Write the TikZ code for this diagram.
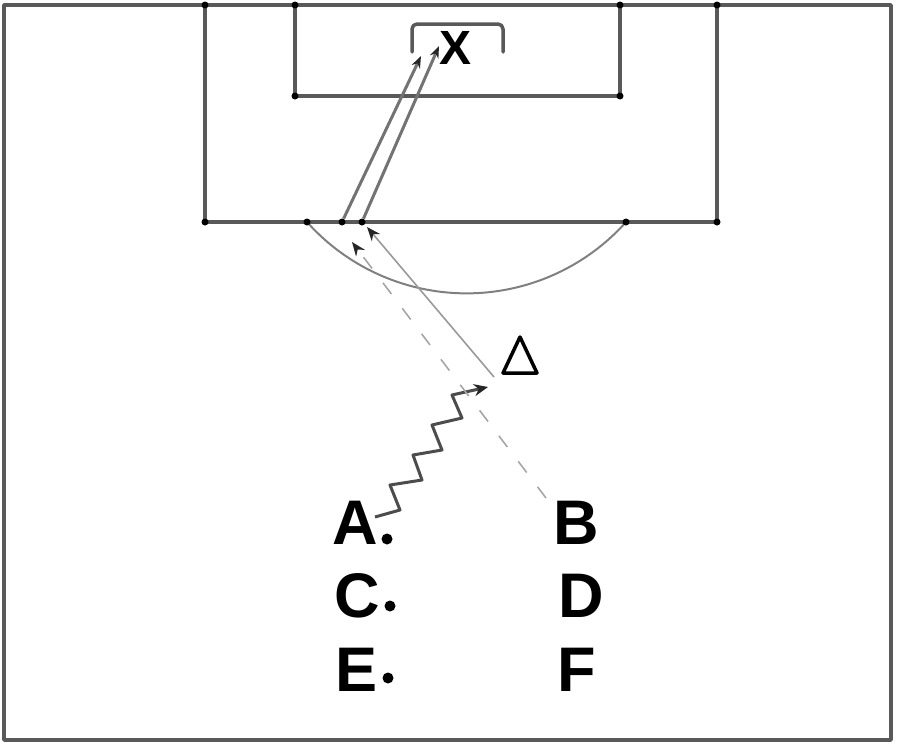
\documentclass[tikz,border=0pt]{standalone}
\usepackage{fontspec}
\setmainfont{Liberation Sans}
\usetikzlibrary{arrows.meta}
\begin{document}
\begin{tikzpicture}[x=1pt,y=-1pt,
  fieldline/.style={line width=3.5pt, draw=black!65, line join=round, line cap=round},
  arcline/.style={line width=2pt, draw=black!50},
  corner/.style={circle, fill=black, inner sep=0pt, minimum size=7pt},
  shot/.style={line width=3pt, draw=black!55, -{Stealth[length=12pt,width=9pt,color=black!85]}},
  pass/.style={line width=1.6pt, draw=black!40, -{Stealth[length=14pt,width=11pt,color=black!85]}},
  run/.style={line width=1.6pt, draw=black!35, dash pattern=on 14pt off 18pt, -{Stealth[length=14pt,width=11pt,color=black!85]}},
  dribble/.style={line width=3pt, draw=black!70, line join=round, -{Stealth[length=14pt,width=12pt,color=black!85]}},
  letter/.style={font=\fontsize{63}{63}\selectfont\bfseries, inner sep=0pt, anchor=base west},
  marker/.style={circle, fill=black, inner sep=0pt, minimum size=11pt},
  cone/.style={line width=3.5pt, draw=black, line join=round}
]
\useasboundingbox (0,0) rectangle (900,747);

% field markings
\draw[fieldline] (4,5) rectangle (891,740);
\draw[fieldline] (205,5) -- (205,222) -- (717,222) -- (717,5);
\draw[fieldline] (295,5) -- (295,96) -- (620,96) -- (620,5);
\draw[fieldline, rounded corners=5pt] (412,52) -- (412,24) -- (503,24) -- (503,52);
\draw[arcline] (307,222) arc[start angle=138.2, end angle=41.8, radius=214];

\node[corner] (k1) at (205,5) {};
\node[corner] (k2) at (295,5) {};
\node[corner] (k3) at (620,5) {};
\node[corner] (k4) at (717,5) {};
\node[corner] (k5) at (295,96) {};
\node[corner] (k6) at (620,96) {};
\node[corner] (k7) at (205,222) {};
\node[corner] (k8) at (717,222) {};
\node[corner] (k9) at (307,222) {};
\node[corner] (k10) at (626,222) {};

% goal mark
\node[font=\fontsize{48}{48}\selectfont\bfseries, inner sep=0pt] (goal) at (456,48) {X};

% cone
\draw[cone] (520,337) -- (503,373) -- (537,373) -- cycle;

% player letters
\node[letter] (A) at (332,544) {A};
\node[letter] (B) at (553,544) {B};
\node[letter] (C) at (334,617) {C};
\node[letter] (D) at (558,617) {D};
\node[letter] (E) at (335,691) {E};
\node[letter] (F) at (557,691) {F};
\node[marker] (mA) at (387,539) {};
\node[marker] (mC) at (390,606) {};
\node[marker] (mE) at (388,678) {};

% key points
\coordinate (dstart) at (375,517);
\coordinate (ball) at (488,387);
\coordinate (passfrom) at (494,377);
\coordinate (passto) at (367,227);
\coordinate (runfrom) at (546,498);
\coordinate (runto) at (352,242);
\node[corner] (s1) at (342,222) {};
\node[corner] (s2) at (362,222) {};
\coordinate (s1t) at (421,56);
\coordinate (s2t) at (439,46);

% movements
\draw[dribble] (dstart) -- (400,510) -- (390,485) -- (422,480) -- (413,455)
  -- (442,450) -- (432,425) -- (462,418) -- (452,395) -- (ball);
\draw[pass] (passfrom) -- (passto);
\draw[run] (runfrom) -- (runto);
\draw[shot] (s1) -- (s1t);
\draw[shot] (s2) -- (s2t);
\end{tikzpicture}
\end{document}
